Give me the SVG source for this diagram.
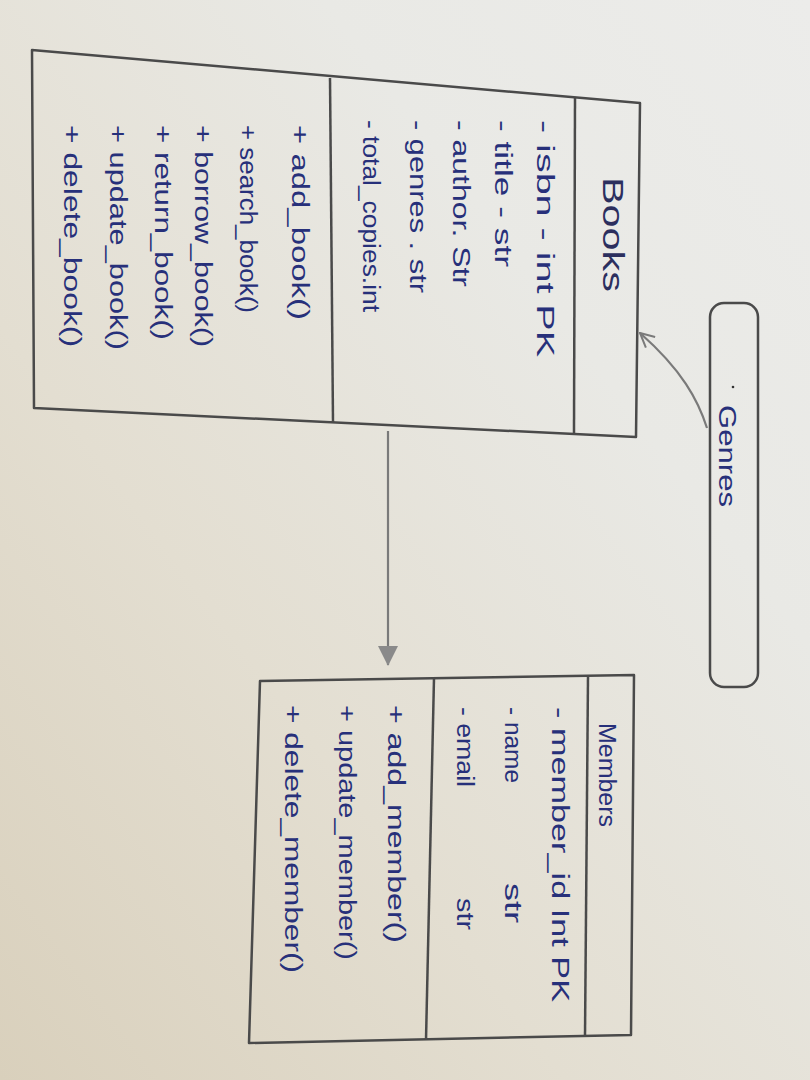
<svg xmlns="http://www.w3.org/2000/svg" width="810" height="1080" viewBox="0 0 810 1080">
  <defs>
    <linearGradient id="paper" x1="0" y1="1" x2="1" y2="0">
      <stop offset="0" stop-color="#d9d0bc"/>
      <stop offset="0.35" stop-color="#e3ded1"/>
      <stop offset="0.7" stop-color="#e9e9e5"/>
      <stop offset="1" stop-color="#ececea"/>
    </linearGradient>
    <marker id="filled" viewBox="0 0 20 20" refX="19" refY="10" markerWidth="20" markerHeight="20" markerUnits="userSpaceOnUse" orient="auto">
      <path d="M0,0 L20,10 L0,20 Z" fill="#8a8a8a"/>
    </marker>
    <marker id="open" viewBox="0 0 16 16" refX="15" refY="8" markerWidth="16" markerHeight="16" markerUnits="userSpaceOnUse" orient="auto">
      <path d="M1,1 L15,8 L1,15" fill="none" stroke="#7a7a7a" stroke-width="2"/>
    </marker>
  </defs>
  <style>
    .box { fill: none; stroke: #4a4a4a; stroke-width: 2.5; stroke-linejoin: round; }
    .div { stroke: #4a4a4a; stroke-width: 2.5; }
    .conn { fill: none; stroke: #7a7a7a; stroke-width: 2.2; }
    .t { font-family: "Liberation Sans", "DejaVu Sans", sans-serif; font-size: 23px; fill: #27307a; dominant-baseline: central; }
    .title { font-family: "Liberation Sans", "DejaVu Sans", sans-serif; font-size: 29px; fill: #2c2f5e; dominant-baseline: central; }
  </style>
  <rect x="0" y="0" width="810" height="1080" fill="url(#paper)"/>

  <g id="connectors">
    <path class="conn" d="M707,428 C698,400 682,370 640,333" marker-end="url(#open)"/>
    <path class="conn" d="M388,431 L388,665" marker-end="url(#filled)"/>
  </g>

  <g id="books">
    <polygon class="box" points="32,50 640,103 636,437 34,408"/>
    <line class="div" x1="330" y1="78" x2="333" y2="422"/>
    <line class="div" x1="575" y1="98" x2="574" y2="434"/>
    <text class="title" transform="translate(613,177) rotate(90)" textLength="115" lengthAdjust="spacingAndGlyphs">Books</text>
    <text class="t" transform="translate(545,120) rotate(90)" textLength="237" lengthAdjust="spacingAndGlyphs">- isbn - int PK</text>
    <text class="t" transform="translate(503,120) rotate(90)" textLength="147" lengthAdjust="spacingAndGlyphs">- title - str</text>
    <text class="t" transform="translate(461,120) rotate(90)" textLength="167" lengthAdjust="spacingAndGlyphs">- author. Str</text>
    <text class="t" transform="translate(418,120) rotate(90)" textLength="173" lengthAdjust="spacingAndGlyphs">- genres . str</text>
    <text class="t" transform="translate(371,120) rotate(90)" textLength="192" lengthAdjust="spacingAndGlyphs">- total_copies.int</text>
    <text class="t" transform="translate(300,125) rotate(90)" textLength="195" lengthAdjust="spacingAndGlyphs">+ add_book()</text>
    <text class="t" transform="translate(248,125) rotate(90)" textLength="188" lengthAdjust="spacingAndGlyphs">+ search_book()</text>
    <text class="t" transform="translate(203,125) rotate(90)" textLength="222" lengthAdjust="spacingAndGlyphs">+ borrow_book()</text>
    <text class="t" transform="translate(163,125) rotate(90)" textLength="215" lengthAdjust="spacingAndGlyphs">+ return_book()</text>
    <text class="t" transform="translate(118,125) rotate(90)" textLength="225" lengthAdjust="spacingAndGlyphs">+ update_book()</text>
    <text class="t" transform="translate(72,125) rotate(90)" textLength="222" lengthAdjust="spacingAndGlyphs">+ delete_book()</text>
  </g>

  <g id="genres">
    <rect class="box" x="710" y="303" width="48" height="384" rx="14" ry="14"/>
    <circle cx="733" cy="387" r="1.3" fill="#333"/>
    <text class="t" transform="translate(727,405) rotate(90)" textLength="102" lengthAdjust="spacingAndGlyphs">Genres</text>
  </g>

  <g id="members">
    <polygon class="box" points="260,681 634,675 631,1035 249,1043"/>
    <line class="div" x1="434" y1="678" x2="426" y2="1040"/>
    <line class="div" x1="588" y1="676" x2="585" y2="1036"/>
    <text class="t" transform="translate(607,723) rotate(90)" textLength="104" lengthAdjust="spacingAndGlyphs">Members</text>
    <text class="t" transform="translate(560,707) rotate(90)" textLength="295" lengthAdjust="spacingAndGlyphs">- member_id Int PK</text>
    <text class="t" transform="translate(513,707) rotate(90)" textLength="76" lengthAdjust="spacingAndGlyphs">- name</text>
    <text class="t" transform="translate(513,883) rotate(90)" textLength="40" lengthAdjust="spacingAndGlyphs">str</text>
    <text class="t" transform="translate(465,707) rotate(90)" textLength="80" lengthAdjust="spacingAndGlyphs">- email</text>
    <text class="t" transform="translate(465,898) rotate(90)" textLength="32" lengthAdjust="spacingAndGlyphs">str</text>
    <text class="t" transform="translate(396,705) rotate(90)" textLength="238" lengthAdjust="spacingAndGlyphs">+ add_member()</text>
    <text class="t" transform="translate(347,705) rotate(90)" textLength="255" lengthAdjust="spacingAndGlyphs">+ update_member()</text>
    <text class="t" transform="translate(293,705) rotate(90)" textLength="268" lengthAdjust="spacingAndGlyphs">+ delete_member()</text>
  </g>
</svg>
